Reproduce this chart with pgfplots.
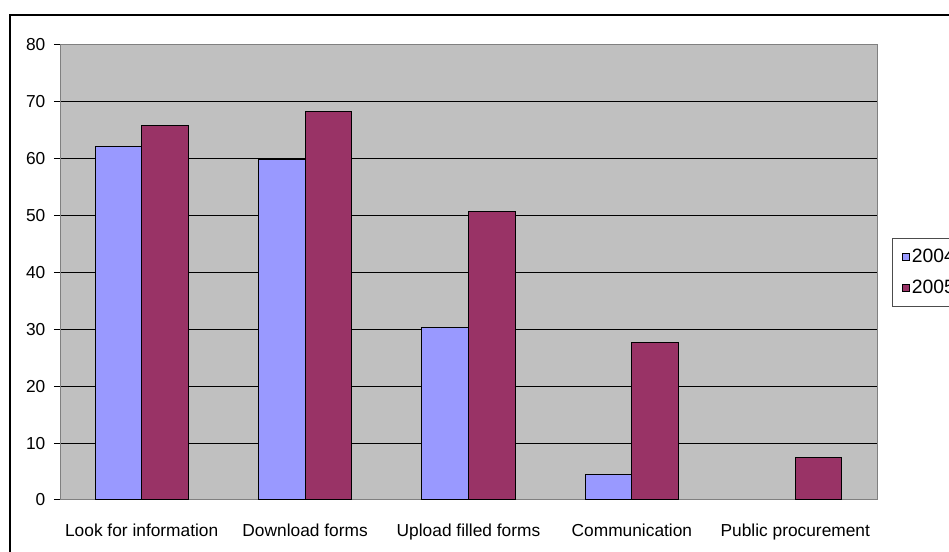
\documentclass[border=0pt]{standalone}
\usepackage{pgfplots}
\pgfplotsset{compat=1.18}
\usepackage{fontspec}
\setmainfont{Liberation Sans}
\definecolor{bgc}{HTML}{C0C0C0}
\definecolor{cA}{HTML}{9999FF}
\definecolor{cB}{HTML}{993366}
\begin{document}
\begin{tikzpicture}[x=0.75pt,y=0.75pt]
\useasboundingbox (0,0) rectangle (949,552);
\draw[line width=1.5pt] (10,-20) -- (10,537) -- (980,537);
\begin{axis}[
  at={(45pt,39pt)}, anchor=south west,
  width=612.75pt, height=341.25pt, scale only axis,
  ybar=0pt, bar width=35pt,
  xmin=-0.5, xmax=4.5, ymin=0, ymax=80,
  ytick={0,10,...,80},
  xtick={0,1,2,3,4},
  xtick pos=bottom, ytick pos=left,
  xticklabels={Look for information,Download forms,Upload filled forms,Communication,Public procurement},
  x tick style={draw=none},
  extra x ticks={-0.5,0.5,1.5,2.5,3.5,4.5},
  extra x tick labels={},
  extra x tick style={tick style={draw=black, line width=0.75pt}, tick align=outside, major tick length=4.5pt, xtick pos=bottom},
  y tick style={draw=black, line width=0.75pt},
  tick align=outside, major tick length=4.5pt,
  ymajorgrids, grid style={black, line width=0.75pt},
  axis line style={draw=black!50, line width=0.75pt},
  axis background/.style={fill=bgc},
  /pgf/number format/assume math mode=true,
  ticklabel style={font=\fontsize{13}{15}\selectfont, text=black},
  xticklabel style={yshift=-10pt},
  yticklabel style={xshift=-3pt},
  legend style={at={(1,0.5)}, anchor=west, xshift=11pt,
    font=\fontsize{14.5}{16}\selectfont, draw=black!70, fill=white,
    line width=0.75pt, inner xsep=7pt, inner ysep=6pt, row sep=8pt,
    legend cell align=left},
  legend image code/.code={\draw[#1,draw=black,line width=0.5pt] (0pt,-2.6pt) rectangle (5.25pt,2.6pt);},
]
\addplot[fill=cA, draw=black, line width=0.75pt] coordinates {(0,62.1) (1,59.8) (2,30.3) (3,4.4)};
\addplot[fill=cB, draw=black, line width=0.75pt] coordinates {(0,65.8) (1,68.3) (2,50.8) (3,27.7) (4,7.4)};
\legend{2004,2005}
\end{axis}
\end{tikzpicture}
\end{document}
